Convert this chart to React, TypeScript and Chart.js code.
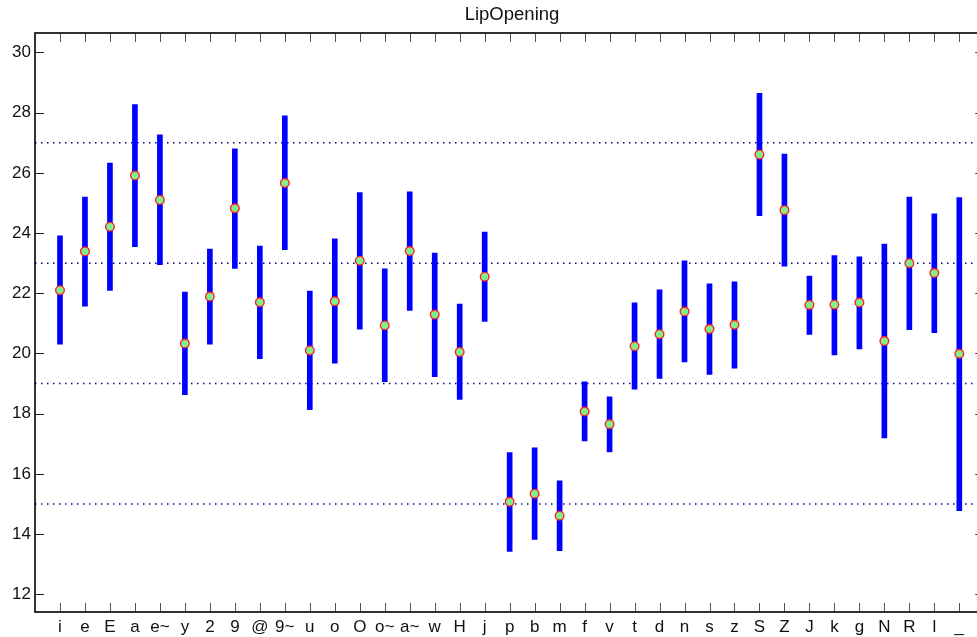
import React, { useEffect, useRef } from "react";
import { Chart, registerables } from "chart.js";

Chart.register(...registerables);

const categories = ["i","e","E","a","e~","y","2","9","@","9~","u","o","O","o~","a~","w","H","j","p","b","m","f","v","t","d","n","s","z","S","Z","J","k","g","N","R","l","_"];
const means = [22.10,23.39,24.21,25.91,25.10,20.33,21.89,24.82,21.70,25.66,20.10,21.73,23.08,20.93,23.40,21.29,20.05,22.55,15.07,15.34,14.61,18.07,17.65,20.24,20.64,21.39,20.81,20.95,26.61,24.76,21.61,21.62,21.69,20.41,23.00,22.67,19.99];
const lows = [20.31,21.57,22.09,23.55,22.95,18.63,20.31,22.82,19.83,23.45,18.13,19.68,20.81,19.06,21.43,19.23,18.47,21.06,13.42,13.82,13.45,17.09,16.73,18.81,19.17,19.72,19.30,19.51,24.58,22.90,20.63,19.95,20.15,17.19,20.79,20.69,14.78];
const highs = [23.91,25.19,26.32,28.27,27.26,22.04,23.47,26.80,23.57,27.89,22.07,23.81,25.34,22.81,25.37,23.33,21.64,24.03,16.71,16.86,15.77,19.06,18.56,21.68,22.11,23.08,22.31,22.38,28.64,26.62,22.57,23.25,23.21,23.63,25.19,24.64,25.18];
const refLines = [15, 19, 23, 27];
const yMin = 11.41;
const yMax = 30.645;
const yStep = 2;
const title = "LipOpening";

const FONT = "'Liberation Sans', Arial, Helvetica, sans-serif";

const boxPlugin = {
  id: "boxTicks",
  beforeDatasetsDraw(chart: any) {
    const { ctx, chartArea } = chart;
    const xs = chart.scales.x;
    const ys = chart.scales.y;
    const { left, right, top, bottom } = chartArea;
    ctx.save();
    ctx.lineWidth = 1;
    ctx.strokeStyle = "#555";
    const tl = 9;
    for (let i = 1; i <= categories.length; i++) {
      const x = Math.round(xs.getPixelForValue(i)) + 0.5;
      ctx.beginPath();
      ctx.moveTo(x, bottom);
      ctx.lineTo(x, bottom - tl);
      ctx.moveTo(x, top);
      ctx.lineTo(x, top + tl);
      ctx.stroke();
    }
    ctx.strokeStyle = "#222";
    ys.ticks.forEach((t: any) => {
      const y = Math.round(ys.getPixelForValue(t.value)) + 0.5;
      ctx.beginPath();
      ctx.moveTo(left, y);
      ctx.lineTo(left + tl, y);
      ctx.moveTo(right, y);
      ctx.lineTo(right - tl, y);
      ctx.stroke();
    });
    ctx.restore();
  },
  afterDatasetsDraw(chart: any) {
    const { ctx, chartArea } = chart;
    const { left, right, top, bottom } = chartArea;
    ctx.save();
    ctx.lineWidth = 1.6;
    ctx.strokeStyle = "#000";
    ctx.strokeRect(left, top, right - left, bottom - top);
    ctx.restore();
  },
};

export default function App() {
  const ref = useRef<HTMLCanvasElement>(null);
  useEffect(() => {
    if (!ref.current) return;
    const labels = ["", ...categories, ""];
    const pad = (arr: any[]) => [null, ...arr, null];
    const chart = new Chart(ref.current, {
      type: "bar",
      data: {
        labels,
        datasets: [
          {
            type: "line",
            data: pad(means),
            showLine: false,
            pointRadius: 4.3,
            pointBackgroundColor: "#80f08c",
            pointBorderColor: "#ff2020",
            pointBorderWidth: 1.4,
            order: 0,
          } as any,
          {
            type: "bar",
            data: pad(categories.map((_, i) => [lows[i], highs[i]])),
            backgroundColor: "#0000ff",
            borderWidth: 0,
            barThickness: 5,
            order: 1,
          } as any,
          ...refLines.map((v) => ({
            type: "line",
            data: labels.map(() => v),
            borderColor: "#0a0a80",
            borderWidth: 1.5,
            borderDash: [1.5, 4.5],
            pointRadius: 0,
            fill: false,
            order: 2,
          })) as any,
        ],
      },
      options: {
        responsive: false,
        animation: false,
        devicePixelRatio: 1,
        layout: { padding: { left: 0, right: 6, top: 0, bottom: 0 } },
        plugins: {
          legend: { display: false },
          tooltip: { enabled: false },
          title: {
            display: true,
            text: title,
            color: "#111",
            font: { family: FONT, size: 18.5, weight: "normal", lineHeight: 1 },
            padding: { top: 6, bottom: 8.5 },
          },
        },
        scales: {
          x: {
            type: "category",
            offset: false,
            grid: { display: false, drawTicks: false },
            border: { display: false },
            ticks: {
              autoSkip: false,
              maxRotation: 0,
              minRotation: 0,
              padding: 5,
              color: "#111",
              font: { family: FONT, size: 17 },
            },
            afterFit: (s: any) => { s.height = 25; },
          },
          y: {
            type: "linear",
            min: yMin,
            max: yMax,
            grid: { display: false, drawTicks: false },
            border: { display: false },
            ticks: {
              stepSize: yStep,
              includeBounds: false,
              padding: 4,
              color: "#111",
              font: { family: FONT, size: 17 },
            },
            afterFit: (s: any) => { s.width = 35; },
          },
          yRight: {
            type: "linear",
            position: "right",
            display: true,
            grid: { display: false, drawTicks: false },
            border: { display: false },
            ticks: { display: false },
            afterFit: (s: any) => { s.width = 39.7; },
          },
        },
      },
      plugins: [boxPlugin],
    });
    return () => chart.destroy();
  }, []);
  return (
    <div style={{ position: "fixed", left: 0, top: 0, width: 977, height: 637, overflow: "hidden", background: "#fff" }}>
      <canvas ref={ref} width={1030} height={637} style={{ display: "block" }} />
    </div>
  );
}
